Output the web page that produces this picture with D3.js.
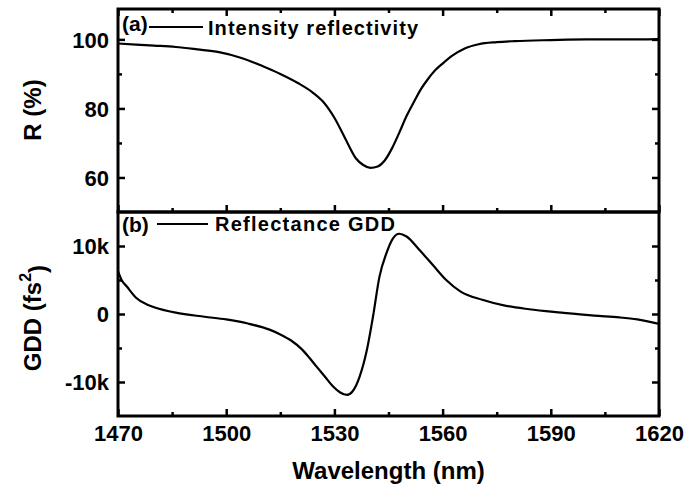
<!DOCTYPE html>
<html>
<head>
<meta charset="utf-8">
<script src="https://cdn.jsdelivr.net/npm/d3@7"></script>
<style>
  html, body { margin: 0; padding: 0; background: #fff; }
  svg { display: block; }
  text { font-family: "Liberation Sans", Arial, sans-serif; font-weight: bold; fill: #000; }
</style>
</head>
<body>
<svg id="chart" width="686" height="497"></svg>
<script>
// ---- data ----
const xTicks = [1470, 1500, 1530, 1560, 1590, 1620];
const rTicks = [60, 80, 100];
const gddTicks = [-10000, 0, 10000];
const gddTickLabels = ["-10k", "0", "10k"];

const wlR = [1470, 1475, 1480, 1486, 1492, 1498, 1504, 1510, 1515, 1520, 1524, 1527, 1530, 1533, 1536, 1538, 1540, 1542, 1544, 1546, 1548, 1550, 1552, 1554, 1556, 1558, 1560, 1563, 1566, 1570, 1575, 1580, 1590, 1600, 1610, 1620];
const reflectivity = [98.8, 98.5, 98.2, 97.8, 97.1, 96.3, 94.7, 92.3, 90.0, 87.3, 84.6, 81.8, 77.3, 71.3, 65.5, 63.6, 62.8, 63.2, 65.0, 68.5, 73.0, 77.8, 81.8, 85.6, 88.6, 91.1, 93.0, 95.5, 97.3, 98.6, 99.2, 99.5, 99.8, 100.0, 100.0, 100.1];

const wlG = [1470, 1471, 1472.5, 1475, 1478, 1480, 1486, 1494, 1500, 1506, 1512, 1515, 1518, 1521, 1523, 1525, 1527.5, 1529.5, 1531.5, 1533.5, 1535, 1537, 1539, 1540.7, 1542.5, 1544.4, 1546.2, 1548, 1550, 1553.6, 1557.3, 1561, 1565, 1571, 1577.6, 1584, 1593, 1602, 1609, 1614, 1620];
const gdd = [6300, 5000, 4000, 2400, 1400, 1000, 200, -400, -800, -1400, -2300, -3000, -3900, -5200, -6400, -7700, -9300, -10600, -11500, -11900, -11400, -9200, -5300, -400, 5500, 8900, 11100, 11800, 11400, 9400, 7200, 5000, 3300, 2100, 1200, 700, 200, -250, -500, -800, -1450];

const legendA = ["(a)", "Intensity reflectivity"];
const legendB = ["(b)", "Reflectance GDD"];
const xTitle = "Wavelength (nm)";

// ---- layout ----
const L = 118, R = 659, T = 9, M = 212, B = 416;
const svg = d3.select("#chart");

const x = d3.scaleLinear().domain([1470, 1620]).range([L, R]);
const yR = d3.scaleLinear().domain([50, 108.8]).range([M, T]);
const yG = d3.scaleLinear().domain([-15000, 15000]).range([B, M]);

const xMinor = d3.range(1485, 1620, 30);
const rMinor = [70, 90];
const gMinor = [-5000, 5000];

function tickStyle(g) {
  g.select(".domain").remove();
  g.selectAll("line").attr("stroke", "#000").attr("stroke-width", 2.5);
}

// Ticks (inward)
function addTicks(axisGen, tx, ty, values, len) {
  const g = svg.append("g").attr("transform", `translate(${tx},${ty})`)
    .call(axisGen.tickValues(values).tickSize(len).tickFormat(""));
  tickStyle(g);
  g.selectAll("text").remove();
  return g;
}
// top panel
addTicks(d3.axisTop(x), 0, M, xTicks, 7);
addTicks(d3.axisTop(x), 0, M, xMinor, 4);
addTicks(d3.axisBottom(x), 0, T, xTicks, 7);
addTicks(d3.axisBottom(x), 0, T, xMinor, 4);
addTicks(d3.axisRight(yR), L, 0, rTicks, 7);
addTicks(d3.axisRight(yR), L, 0, rMinor, 4);
addTicks(d3.axisLeft(yR), R, 0, rTicks, 7);
addTicks(d3.axisLeft(yR), R, 0, rMinor, 4);
// bottom panel
addTicks(d3.axisTop(x), 0, B, xTicks, 7);
addTicks(d3.axisTop(x), 0, B, xMinor, 4);
addTicks(d3.axisRight(yG), L, 0, gddTicks, 7);
addTicks(d3.axisRight(yG), L, 0, gMinor, 4);
addTicks(d3.axisLeft(yG), R, 0, gddTicks, 7);
addTicks(d3.axisLeft(yG), R, 0, gMinor, 4);

// Tick labels
const fs = 22;
const xl = svg.append("g").attr("transform", `translate(0,${B})`)
  .call(d3.axisBottom(x).tickValues(xTicks).tickSize(0).tickPadding(0).tickFormat(d3.format("d")));
xl.select(".domain").remove();
xl.selectAll("text").attr("y", 25).attr("dy", null).style("font-size", fs + "px");

const yl1 = svg.append("g").attr("transform", `translate(${L},0)`)
  .call(d3.axisLeft(yR).tickValues(rTicks).tickSize(0).tickPadding(9).tickFormat(d3.format("d")));
yl1.select(".domain").remove();
yl1.selectAll("text").style("font-size", fs + "px").attr("dy", "0.36em");

const yl2 = svg.append("g").attr("transform", `translate(${L},0)`)
  .call(d3.axisLeft(yG).tickValues(gddTicks).tickSize(0).tickPadding(9)
    .tickFormat((d, i) => gddTickLabels[i]));
yl2.select(".domain").remove();
yl2.selectAll("text").style("font-size", fs + "px").attr("dy", "0.36em");

// Curves
const lineR = d3.line().x((d, i) => x(wlR[i])).y(d => yR(d)).curve(d3.curveMonotoneX);
const lineG = d3.line().x((d, i) => x(wlG[i])).y(d => yG(d)).curve(d3.curveMonotoneX);
svg.append("path").attr("d", lineR(reflectivity)).attr("fill", "none").attr("stroke", "#000").attr("stroke-width", 2.2);
svg.append("path").attr("d", lineG(gdd)).attr("fill", "none").attr("stroke", "#000").attr("stroke-width", 2.2);

// Frames
svg.append("rect").attr("x", L).attr("y", T).attr("width", R - L).attr("height", M - T)
  .attr("fill", "none").attr("stroke", "#000").attr("stroke-width", 3);
svg.append("rect").attr("x", L).attr("y", M).attr("width", R - L).attr("height", B - M)
  .attr("fill", "none").attr("stroke", "#000").attr("stroke-width", 3);

// Legends
svg.append("text").attr("x", 122).attr("y", 31).style("font-size", "21px").text(legendA[0]);
svg.append("line").attr("x1", 149).attr("x2", 203).attr("y1", 27).attr("y2", 27).attr("stroke", "#000").attr("stroke-width", 2.2);
svg.append("text").attr("x", 208).attr("y", 35).style("font-size", "20px")
  .attr("textLength", 210).attr("lengthAdjust", "spacing").text(legendA[1]);

svg.append("text").attr("x", 122).attr("y", 232).style("font-size", "21px").text(legendB[0]);
svg.append("line").attr("x1", 157).attr("x2", 208).attr("y1", 224).attr("y2", 224).attr("stroke", "#000").attr("stroke-width", 2.2);
svg.append("text").attr("x", 215).attr("y", 231).style("font-size", "20px")
  .attr("textLength", 180).attr("lengthAdjust", "spacing").text(legendB[1]);

// Axis titles
svg.append("text").attr("x", (L + R) / 2).attr("y", 479).attr("text-anchor", "middle")
  .style("font-size", "24px").text(xTitle);

svg.append("text").attr("transform", `translate(41,110) rotate(-90)`).attr("text-anchor", "middle")
  .style("font-size", "24px").text("R (%)");

const gt = svg.append("text").attr("transform", `translate(41,318) rotate(-90)`).attr("text-anchor", "middle")
  .style("font-size", "24px");
gt.append("tspan").text("GDD (fs");
gt.append("tspan").attr("dy", "-0.6em").style("font-size", "16px").text("2");
gt.append("tspan").attr("dy", "0.6em").text(")");
</script>
</body>
</html>
